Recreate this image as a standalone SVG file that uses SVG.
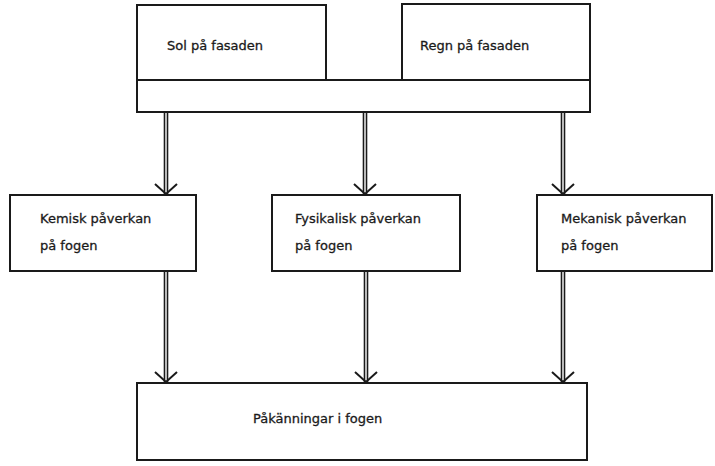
<svg xmlns="http://www.w3.org/2000/svg" width="715" height="466" viewBox="0 0 715 466">
<defs>
<style>
.box{fill:none;stroke:#1a1a1a;stroke-width:2}
.t{font-family:"DejaVu Sans","Liberation Sans",sans-serif;font-size:13px;fill:#1a1a1a;stroke:#1a1a1a;stroke-width:0.3}
.ln{stroke:#1a1a1a;stroke-width:1.6;fill:none}
.hd{stroke:#1a1a1a;stroke-width:2;fill:none;stroke-linejoin:miter}
</style>
</defs>
<rect width="715" height="466" fill="#ffffff"/>
<g id="sol">
<rect class="box" x="137" y="5" width="189" height="75"/>
<text class="t" x="167" y="50">Sol på fasaden</text>
</g>
<g id="regn">
<rect class="box" x="402" y="4" width="188" height="76"/>
<text class="t" x="420" y="50">Regn på fasaden</text>
</g>
<g id="bar">
<rect class="box" x="137" y="80" width="453" height="32"/>
</g>
<g id="kemisk">
<rect class="box" x="10" y="195" width="186" height="76"/>
<text class="t" x="40" y="223">Kemisk påverkan</text>
<text class="t" x="40" y="250">på fogen</text>
</g>
<g id="fysikalisk">
<rect class="box" x="272" y="195" width="188" height="76"/>
<text class="t" x="295" y="223">Fysikalisk påverkan</text>
<text class="t" x="295" y="250">på fogen</text>
</g>
<g id="mekanisk">
<rect class="box" x="537" y="195" width="175" height="76"/>
<text class="t" x="561" y="223">Mekanisk påverkan</text>
<text class="t" x="561" y="250">på fogen</text>
</g>
<g id="pakanningar">
<rect class="box" x="137" y="383" width="450" height="77"/>
<text class="t" x="253" y="423">Påkänningar i fogen</text>
</g>
<g id="connectors">
<path class="ln" d="M164.5,112V194M167.5,112V194"/>
<path class="hd" d="M155,184L166,194L177,184"/>
<path class="ln" d="M363.5,112V194M366.5,112V194"/>
<path class="hd" d="M354,184L365,194L376,184"/>
<path class="ln" d="M561.5,112V194M564.5,112V194"/>
<path class="hd" d="M552,184L563,194L574,184"/>
<path class="ln" d="M164.5,271V382M167.5,271V382"/>
<path class="hd" d="M155,372L166,382L177,372"/>
<path class="ln" d="M364.5,271V382M367.5,271V382"/>
<path class="hd" d="M355,372L366,382L377,372"/>
<path class="ln" d="M561.5,271V382M564.5,271V382"/>
<path class="hd" d="M552,372L563,382L574,372"/>
</g>
</svg>
